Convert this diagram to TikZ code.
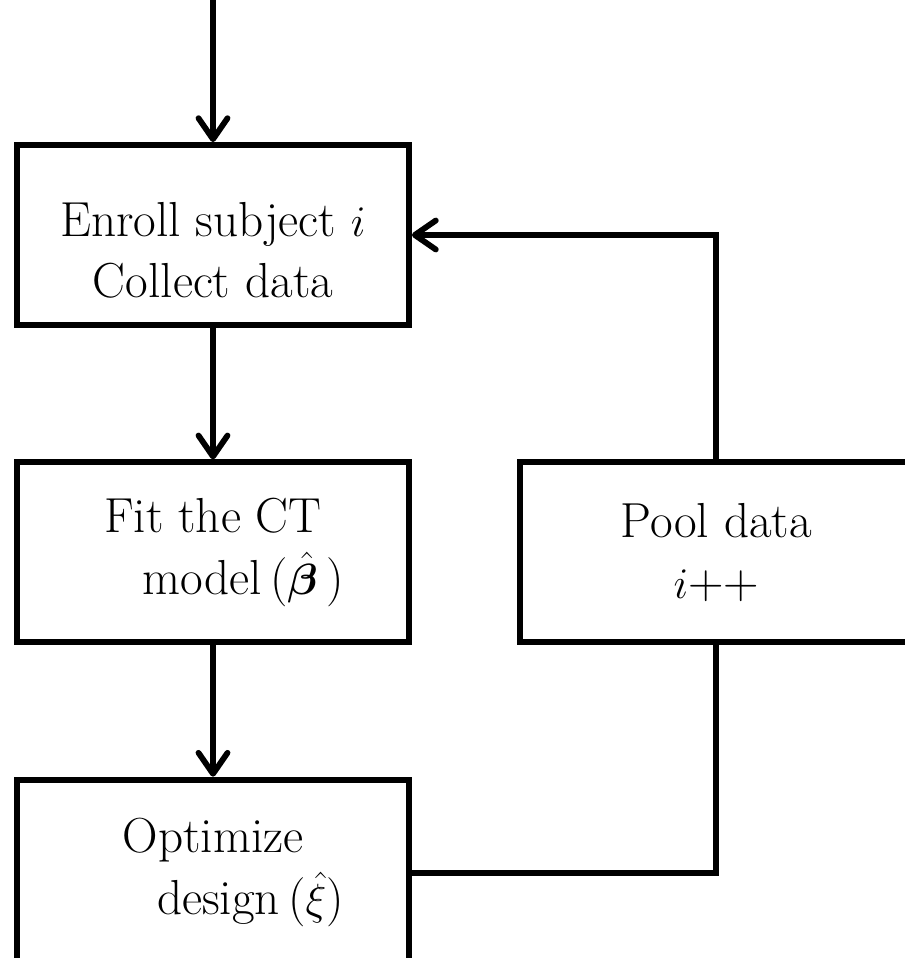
\documentclass[tikz,border=0pt]{standalone}
\usepackage{amsmath}
\usepackage{amssymb}
\usepackage{bm}
\usepackage{tikz}
\usetikzlibrary{positioning,arrows.meta}
\tikzset{
box/.style={
  draw, rectangle, line width=3.3pt,
  minimum width=7.84cm, minimum height=3.6cm,
  align=center,
  font=\fontsize{28}{35}\selectfont
},
flow/.style={line width=3.3pt, -{Straight Barb[round,length=0.42cm,width=0.58cm]}},
link/.style={line width=3.3pt},
}

\begin{document}
\begin{tikzpicture}
            \useasboundingbox (0,0) rectangle (18.1,-19.16);
            \node[box] (enroll) at (4.26,-4.7) {\rule{0pt}{1.3cm}Enroll subject $i$\\Collect data};
            \node[box, below=2.63cm of enroll] (fit) {Fit the CT\\\hspace{1.2cm}model\,($\hat{\bm{\beta}}$\,)};
            \node[box, below=2.63cm of fit, minimum height=3.72cm] (optimize) {Optimize\\\hspace{1.5cm}design\,($\hat{\xi}$)};
            \node[box, right=2.11cm of fit] (pool) {Pool data\\$i$++};
            \coordinate (start) at (enroll.north |- 0,0);
            \draw[flow] (start) -- (enroll);
            \draw[flow] (enroll) -- (fit);
            \draw[flow] (fit) -- (optimize);
            \draw[link] (optimize) -| (pool);
            \draw[flow] (pool) |- (enroll);
\end{tikzpicture}
\end{document}
